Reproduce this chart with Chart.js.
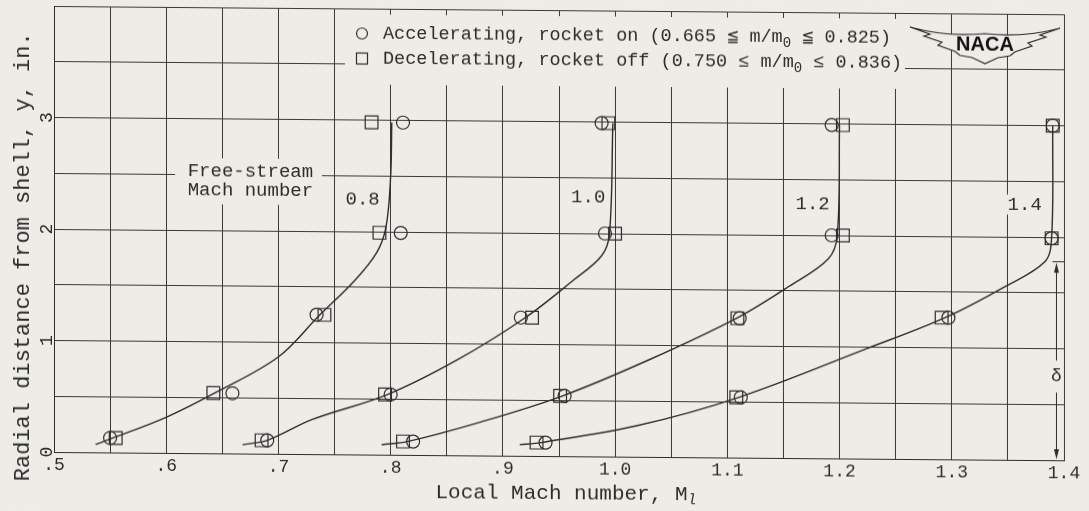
<!DOCTYPE html>
<html>
<head>
<meta charset="utf-8">
<script src="https://cdn.jsdelivr.net/npm/chart.js@4.4.1/dist/chart.umd.min.js"></script>
<style>
  html, body { margin: 0; padding: 0; background: #eeece6; overflow: hidden; }
  #chart { display: block; background: #eeece6; transform: skewY(0.47deg); transform-origin: 54px 0; }
</style>
</head>
<body>
<canvas id="chart" width="1089" height="511"></canvas>
<script>
// Free-stream Mach numbers (one faired curve each)
const freeStream = ['0.8', '1.0', '1.2', '1.4'];

// faired curves [M_l, y]
const curve08 = [[0.537, 0.07], [0.55, 0.12], [0.60, 0.32], [0.645, 0.55], [0.70, 0.87], [0.736, 1.24], [0.768, 1.56], [0.788, 1.82], [0.796, 2.05], [0.800, 2.5], [0.801, 2.98]];
const curve10 = [[0.668, 0.08], [0.69, 0.12], [0.73, 0.31], [0.797, 0.54], [0.86, 0.86], [0.92, 1.24], [0.963, 1.58], [0.988, 1.80], [0.995, 2.0], [0.998, 2.99]];
const curve12 = [[0.792, 0.09], [0.815, 0.12], [0.88, 0.30], [0.953, 0.54], [1.03, 0.87], [1.11, 1.26], [1.155, 1.54], [1.19, 1.79], [1.198, 2.0], [1.200, 2.99]];
const curve14 = [[0.915, 0.10], [0.934, 0.12], [1.02, 0.28], [1.11, 0.54], [1.225, 0.99], [1.294, 1.27], [1.345, 1.54], [1.383, 1.78], [1.389, 2.0], [1.390, 3.0]];

// accelerating, rocket on (circles)
const acc08 = [[0.550, 0.13], [0.659, 0.54], [0.734, 1.25], [0.809, 1.99], [0.811, 2.98]];
const acc10 = [[0.690, 0.12], [0.800, 0.54], [0.916, 1.24], [0.991, 2.0], [0.988, 2.99]];
const acc12 = [[0.820, 0.12], [0.955, 0.54], [1.111, 1.25], [1.193, 2.0], [1.193, 2.99]];
const acc14 = [[0.938, 0.12], [1.112, 0.54], [1.297, 1.27], [1.389, 1.99], [1.390, 3.0]];

// decelerating, rocket off (squares)
const dec08 = [[0.555, 0.13], [0.642, 0.54], [0.741, 1.25], [0.790, 1.99], [0.783, 2.98]];
const dec10 = [[0.685, 0.12], [0.795, 0.54], [0.926, 1.24], [1.000, 2.0], [0.994, 2.99]];
const dec12 = [[0.811, 0.12], [0.951, 0.54], [1.109, 1.25], [1.203, 2.0], [1.203, 2.99]];
const dec14 = [[0.930, 0.12], [1.108, 0.54], [1.291, 1.27], [1.389, 1.99], [1.390, 3.0]];

const legendLabels = ['Accelerating, rocket on', 'Decelerating, rocket off'];
const massRanges = [['0.665', '0.825'], ['0.750', '0.836']];

const xTickLabels = ['.5', '.6', '.7', '.8', '.9', '1.0', '1.1', '1.2', '1.3', '1.4'];
const yTickValues = [0, 1, 2, 3];
const yTickLabels = ['0', '1', '2', '3'];

const xTitle = 'Local Mach number, M';
const yTitle = 'Radial distance from shell, y, in.';

const paper = '#eeece6';
const ink = '#2c2c2c';
const mono = "'Liberation Mono', 'DejaVu Sans Mono', monospace";

const toXY = pts => pts.map(p => ({ x: p[0], y: p[1] }));

function curveSet(pts) {
  return {
    type: 'line',
    data: toXY(pts),
    borderColor: ink,
    borderWidth: 1.4,
    pointRadius: 0,
    fill: false,
    tension: 0.35
  };
}

function markerSet(pts, style, r) {
  return {
    type: 'scatter',
    data: toXY(pts),
    pointStyle: style,
    pointRadius: r,
    pointBorderColor: ink,
    pointBackgroundColor: 'rgba(0,0,0,0)',
    pointBorderWidth: 1.2,
    showLine: false
  };
}

// labels, legend, logo and the delta arrow
const annotations = {
  id: 'annotations',
  beforeDatasetsDraw(chart) {
    const { ctx } = chart;
    const xs = chart.scales.x, ys = chart.scales.y;
    const px = v => xs.getPixelForValue(v);
    const py = v => ys.getPixelForValue(v);
    ctx.save();
    ctx.fillStyle = paper;
    // legend block and the free-stream note blank out the grid
    ctx.fillRect(345, 12, 560, 70);
    ctx.fillRect(175, 157, 147, 46);

    ctx.fillStyle = ink;
    ctx.strokeStyle = ink;
    ctx.lineWidth = 1.2;

    // legend
    const rows = [31, 56];
    ctx.textBaseline = 'middle';
    ctx.textAlign = 'left';
    ctx.beginPath();
    ctx.arc(362, rows[0], 5.5, 0, Math.PI * 2);
    ctx.stroke();
    ctx.strokeRect(356.5, rows[1] - 5.5, 11, 11);
    const rel = ['\u2266', '\u2264'];
    rows.forEach((ry, i) => {
      let tx = 383;
      ctx.font = '18.5px ' + mono;
      const a = legendLabels[i] + ' (' + massRanges[i][0] + ' ' + rel[i] + ' m/m';
      ctx.fillText(a, tx, ry);
      tx += ctx.measureText(a).width;
      ctx.font = '14px ' + mono;
      ctx.fillText('0', tx, ry + 6);
      tx += ctx.measureText('0').width;
      ctx.font = '18.5px ' + mono;
      ctx.fillText(' ' + rel[i] + ' ' + massRanges[i][1] + ')', tx, ry);
    });

    // NACA wing logo
    const cx = 985;
    const lower = [[75, 20], [55, 27], [61, 29], [43, 35], [47, 38], [30, 44], [25, 48], [13, 50], [0, 56]];
    ctx.beginPath();
    ctx.moveTo(cx - 75, 20);
    ctx.quadraticCurveTo(cx - 38, 30, cx, 26);
    ctx.quadraticCurveTo(cx + 38, 30, cx + 75, 20);
    lower.forEach(p => ctx.lineTo(cx + p[0], p[1]));
    lower.slice().reverse().forEach(p => ctx.lineTo(cx - p[0], p[1]));
    ctx.closePath();
    ctx.fillStyle = paper;
    ctx.fill();
    ctx.stroke();
    ctx.fillStyle = '#111';
    ctx.font = "bold 20px 'Liberation Sans Narrow', 'Liberation Sans', Arial, sans-serif";
    ctx.textAlign = 'center';
    ctx.fillText('NACA', cx, 37);

    // free-stream note
    ctx.fillStyle = ink;
    ctx.font = '19px ' + mono;
    ctx.fillText('Free-stream', px(0.675), py(2.53));
    ctx.fillText('Mach number', px(0.675), py(2.36));

    // curve labels
    const labelPos = [[0.775, 2.29], [0.976, 2.32], [1.176, 2.28], [1.365, 2.29]];
    freeStream.forEach((t, i) => {
      const lx = px(labelPos[i][0]), ly = py(labelPos[i][1]);
      const w = ctx.measureText(t).width;
      ctx.fillStyle = paper;
      ctx.fillRect(lx - w / 2 - 2, ly - 10, w + 4, 20);
      ctx.fillStyle = ink;
      ctx.fillText(t, lx, ly);
    });

    // y tick labels, turned like the original
    ctx.font = '18px ' + mono;
    yTickValues.forEach((v, i) => {
      ctx.save();
      ctx.translate(47, py(v));
      ctx.rotate(-Math.PI / 2);
      ctx.fillText(yTickLabels[i], 0, 0);
      ctx.restore();
    });

    // axis titles
    ctx.save();
    ctx.font = '22px ' + mono;
    ctx.translate(23, 257);
    ctx.rotate(-Math.PI / 2);
    ctx.fillText(yTitle, 0, 0);
    ctx.restore();

    ctx.font = '21px ' + mono;
    const w1 = ctx.measureText(xTitle).width;
    ctx.font = 'italic 15px ' + mono;
    const w2 = ctx.measureText('l').width;
    let tx = 566 - (w1 + w2) / 2;
    ctx.textAlign = 'left';
    ctx.font = '21px ' + mono;
    ctx.fillText(xTitle, tx, 489);
    ctx.font = 'italic 15px ' + mono;
    ctx.fillText('l', tx + w1, 495);
    ctx.restore();
  },
  afterDatasetsDraw(chart) {
    const { ctx } = chart;
    const xs = chart.scales.x, ys = chart.scales.y;
    const ax = Math.round(xs.getPixelForValue(1.393)) + 0.5;
    const top = ys.getPixelForValue(1.78);
    const bot = ys.getPixelForValue(0);
    const mid = ys.getPixelForValue(0.75);
    ctx.save();
    ctx.strokeStyle = ink;
    ctx.fillStyle = ink;
    ctx.lineWidth = 1;
    ctx.beginPath();
    ctx.moveTo(ax - 4, top); ctx.lineTo(ax + 8, top);
    ctx.moveTo(ax, top + 8); ctx.lineTo(ax, mid - 16);
    ctx.moveTo(ax, mid + 16); ctx.lineTo(ax, bot - 8);
    ctx.stroke();
    ctx.beginPath();
    ctx.moveTo(ax, top + 1); ctx.lineTo(ax - 2.5, top + 11); ctx.lineTo(ax + 2.5, top + 11); ctx.closePath();
    ctx.moveTo(ax, bot - 1); ctx.lineTo(ax - 2.5, bot - 11); ctx.lineTo(ax + 2.5, bot - 11); ctx.closePath();
    ctx.fill();
    ctx.font = '18px ' + mono;
    ctx.textAlign = 'center';
    ctx.textBaseline = 'middle';
    ctx.fillText('\u03b4', ax, mid);
    ctx.restore();
  }
};

const ctx = document.getElementById('chart').getContext('2d');
new Chart(ctx, {
  type: 'scatter',
  data: {
    datasets: [
      curveSet(curve08),
      curveSet(curve10),
      curveSet(curve12),
      curveSet(curve14),
      markerSet([...acc08, ...acc10, ...acc12, ...acc14], 'circle', 6.5),
      markerSet([...dec08, ...dec10, ...dec12, ...dec14], 'rect', 9)
    ]
  },
  options: {
    responsive: false,
    animation: false,
    events: [],
    layout: { autoPadding: false, padding: { top: 6, right: 25, left: 0, bottom: 0 } },
    plugins: {
      legend: { display: false },
      tooltip: { enabled: false }
    },
    scales: {
      x: {
        type: 'linear',
        min: 0.5,
        max: 1.4,
        afterFit: s => { s.height = 59; },
        ticks: {
          stepSize: 0.05,
          autoSkip: false,
          maxRotation: 0,
          padding: 2,
          color: ink,
          font: { family: mono, size: 18 },
          callback: (v, i) => (i % 2 === 0 ? xTickLabels[i / 2] : '')
        },
        grid: { color: '#3a3a3a', lineWidth: 1, drawTicks: false },
        border: { display: true, color: ink, width: 1 }
      },
      y: {
        type: 'linear',
        min: 0,
        max: 4,
        afterFit: s => { s.width = 54; },
        ticks: { stepSize: 0.5, display: false },
        grid: { color: '#3a3a3a', lineWidth: 1, drawTicks: false },
        border: { display: true, color: ink, width: 1 }
      }
    }
  },
  plugins: [annotations]
});
</script>
</body>
</html>
